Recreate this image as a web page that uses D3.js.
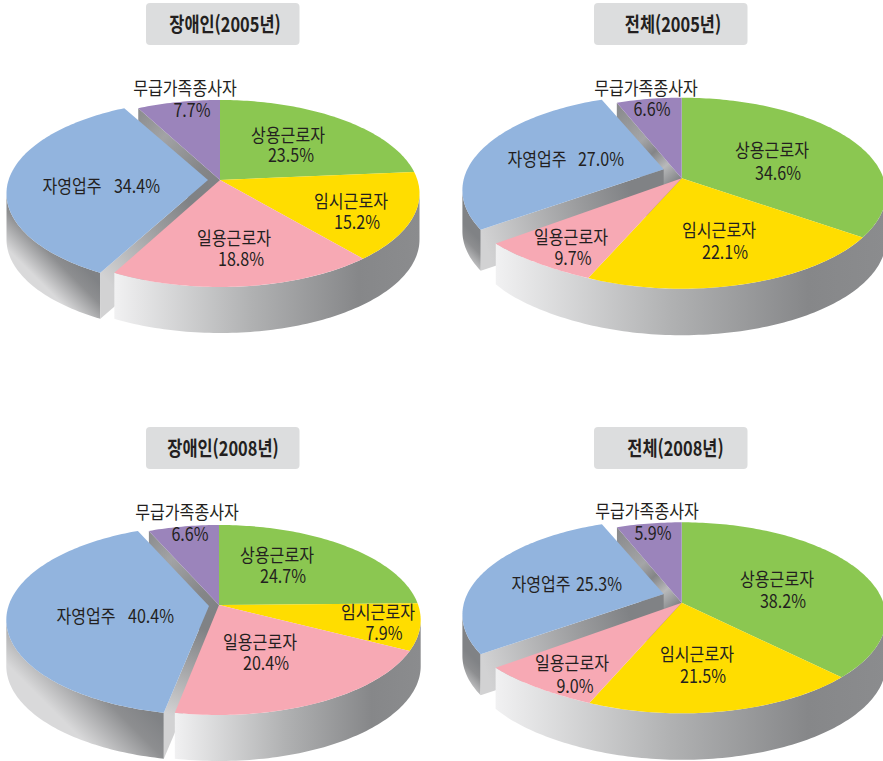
<!DOCTYPE html>
<html lang="ko">
<head>
<meta charset="utf-8">
<script src="https://cdn.jsdelivr.net/npm/d3@7"></script>
<style>
html,body{margin:0;padding:0;background:#fff;overflow:hidden}
text{font-family:"Noto Sans CJK KR","Noto Sans",sans-serif;fill:#231f20}
</style>
</head>
<body>
<svg id="c" width="883" height="761" xmlns="http://www.w3.org/2000/svg"></svg>
<script>
// ---- data ----
const categories = ["상용근로자","임시근로자","일용근로자","자영업주","무급가족종사자"];
const panelTitles = ["장애인(2005년)","전체(2005년)","장애인(2008년)","전체(2008년)"];
const disabled2005 = [23.5,15.2,18.8,34.4,7.7];
const total2005    = [34.6,22.1,9.7,27.0,6.6];
const disabled2008 = [24.7,7.9,20.4,40.4,6.6];
const total2008    = [38.2,21.5,9.0,25.3,5.9];
// the two "전체" pictures' wedges are not drawn exactly to their printed numbers: shares as drawn
const total2005Drawn = [34.8,21.7,9.5,28.0,6.0];
const total2008Drawn = [37.6,18.8,9.6,28.0,6.0];
const colors = ["#8bc751","#ffdd00","#f7a9b4","#92b4de","#9b84bb"];

// ---- layout ----
const panels = [
 {values:disabled2005, drawn:disabled2005, title:panelTitles[0],
  box:[146,3], tx:225, ax:220, ay:180, top:100, bot:287, right:419.5,
  shift:[-14,0], apexShift:[-12,0], sag:[0,0], depth:46, blueDepth:46,
  lab:[[288,135,291,155],[351,201,357,222],[234,238,241,259],[72,186,137,186],[185,88,192,110]]},
 {values:total2005, drawn:total2005Drawn, title:panelTitles[1],
  box:[594,3], tx:673, ax:681.7, ay:178.3, top:97.7, bot:288.7, right:886,
  shift:[-15,-3], apexShift:[-18,-9], sag:[10.7,5], depth:46.5, blueDepth:41,
  lab:[[772,150,778,173],[719,230,725,252],[571,237,573,258],[537,159,601,159],[646,88,652,109]]},
 {values:disabled2008, drawn:disabled2008, title:panelTitles[2],
  box:[146,427], tx:223, ax:219, ay:605, top:525, bot:715, right:420.7,
  shift:[-11,0], apexShift:[-10,1], sag:[0,0], depth:46, blueDepth:46,
  lab:[[277,555,283,576],[378,612,384,633],[260,642,266,663],[86,616,151,616],[187,512,190,534]]},
 {values:total2008, drawn:total2008Drawn, title:panelTitles[3],
  box:[594,427], tx:675.5, ax:681.7, ay:602.7, top:522.3, bot:713.3, right:886,
  shift:[-15,-3], apexShift:[-18,-8.7], sag:[10.5,5], depth:46.5, blueDepth:41,
  lab:[[777,579,783,601],[697,654,703,676],[572,663,575,686],[541,584,599,584],[647,511,653,533]]}
];
const labelSize = 18.5, labelSquash = 0.87, titleSize = 20.5, titleSquash = 0.8;

const svg = d3.select("#c");
const defs = svg.append("defs");
const pathLine = d3.line().x(d=>d[0]).y(d=>d[1]);
const pieGen = d3.pie().sort(null).startAngle(0).endAngle(2*Math.PI);

function gradient(id,p0,p1,stops){
  const g = defs.append("linearGradient").attr("id",id)
    .attr("gradientUnits","userSpaceOnUse")
    .attr("x1",p0[0]).attr("y1",p0[1]).attr("x2",p1[0]).attr("y2",p1[1]);
  stops.forEach(s=>g.append("stop").attr("offset",s[0]).attr("stop-color",s[1]));
  return `url(#${id})`;
}

panels.forEach((P,pi)=>{
  // perspective disc: the hub sits above the centre of the drawn ellipse
  const Yt = P.ay-P.top, Yb = P.bot-P.ay;
  const k = (Yb-Yt)/(Yb+Yt);
  const b = Yt*(1+k);
  const a = (P.right-P.ax)*Math.sqrt(1-k*k);
  const proj = t=>{
    const u=Math.sin(t), v=Math.cos(t), w=1+k*v;
    return [P.ax+a*u/w, P.ay-b*v/w];
  };
  const hub=[P.ax,P.ay];
  const arcs = pieGen(P.drawn);
  const sample = (t0,t1)=>{
    const n=Math.max(2,Math.ceil((t1-t0)/0.02));
    return d3.range(n+1).map(i=>t0+(t1-t0)*i/n);
  };
  const pink=arcs[2], blue=arcs[3], purple=arcs[4];
  const sagAt=(t,s)=> (t>pink.startAngle && t<=pink.endAngle+1e-9)
      ? s*Math.pow((t-pink.startAngle)/(pink.endAngle-pink.startAngle),2) : 0;
  const rim=t=>{const p=proj(t);return [p[0],p[1]+sagAt(t,P.sag[0])];};
  const rimLow=t=>{const p=proj(t);return [p[0],p[1]+P.depth+sagAt(t,P.sag[1])];};

  const g = svg.append("g");

  // title plate
  g.append("rect").attr("x",P.box[0]).attr("y",P.box[1]).attr("width",153.5).attr("height",42)
    .attr("rx",4).attr("fill","#dcddde");
  g.append("text").attr("transform",`scale(${titleSquash},1)`)
    .attr("x",P.tx/titleSquash).attr("y",P.box[1]+29).attr("text-anchor","middle")
    .attr("font-size",titleSize).attr("font-weight",700).text(P.title);

  // cut face of the main body facing the exploded wedge
  const pEdge=proj(purple.startAngle);
  const hubLow=[hub[0],hub[1]+P.depth], pLow=[pEdge[0],pEdge[1]+P.depth];
  const pfStops = pi%2
    ? [[0,"#87888a"],[.45,"#a4a5a7"],[.62,"#848587"],[.8,"#b8b9ba"],[1,"#808285"]]
    : [[0,"#8a8b8d"],[.35,"#a2a3a5"],[.8,"#858688"],[1,"#808285"]];
  g.append("path").attr("d",pathLine([pEdge,hub,hubLow,pLow])+"Z")
    .attr("fill",gradient(`pf${pi}`,pEdge,hub,pfStops));

  // exploded wedge: side, cut face, top
  const bShift=p=>[p[0]+P.shift[0],p[1]+P.shift[1]];
  const bHub=[hub[0]+P.apexShift[0],hub[1]+P.apexShift[1]];
  const bAngles=sample(blue.startAngle,blue.endAngle);
  const bPts=bAngles.map(t=>bShift(proj(t)));
  const leftIdx=d3.minIndex(bPts,d=>d[0]);
  const bSide=bPts.slice(0,leftIdx+1);
  const corner=bPts[0];
  const drop=(p,d)=>[p[0],p[1]+d];
  const span=Math.max(20,0.31*(corner[0]-bPts[leftIdx][0]));
  g.append("path")
    .attr("d",pathLine(bSide.concat(bSide.slice().reverse().map(p=>drop(p,P.blueDepth))))+"Z")
    .attr("fill",gradient(`bs${pi}`,[corner[0]-2,corner[1]+9],[corner[0]-2-span,corner[1]+9+span],[[0,"#808285"],[.35,"#8d8e90"],[1,"#d9d9da"]]));
  g.append("path")
    .attr("d",pathLine([bHub,corner,drop(corner,P.blueDepth),drop(bHub,P.blueDepth)])+"Z")
    .attr("fill",gradient(`bf${pi}`,corner,bHub,[[0,"#d2d2d3"],[.55,"#98999b"],[.8,"#808285"],[1,"#808285"]]));
  g.append("path").attr("d",pathLine([bHub].concat(bPts))+"Z").attr("fill",colors[3]);

  // main body side
  const mAngles=sample(0,pink.endAngle);
  const mPts=mAngles.map(rim);
  const rIdx=d3.maxIndex(mPts,d=>d[0]);
  const sideTop=mPts.slice(rIdx);
  const sideBot=mAngles.slice(rIdx).map(rimLow).reverse();
  const leftX=sideTop[sideTop.length-1][0], rightX=sideTop[0][0];
  g.append("path").attr("d",pathLine(sideTop.concat(sideBot))+"Z")
    .attr("fill",gradient(`ms${pi}`,[leftX,0],[rightX,0],[[0,"#f1f1f2"],[.45,"#b0b1b2"],[.8,"#868789"],[1,"#8b8c8e"]]));

  // top wedges of the main body
  [0,1,2,4].forEach(i=>{
    const d=arcs[i];
    g.append("path")
      .attr("d",pathLine([hub].concat(sample(d.startAngle,d.endAngle).map(rim)))+"Z")
      .attr("fill",colors[i]);
  });

  // labels: one text per slice, name and share as two runs
  categories.forEach((c,i)=>{
    const L=P.lab[i];
    const base=labelSize*0.37;
    const t=g.append("text").attr("transform",`scale(${labelSquash},1)`)
      .attr("text-anchor","middle").attr("font-size",labelSize);
    t.append("tspan").attr("x",L[0]/labelSquash).attr("y",L[1]+base).text(c);
    t.append("tspan").attr("x",L[2]/labelSquash).attr("y",L[3]+base).text(P.values[i].toFixed(1)+"%");
  });
});
</script>
</body>
</html>
